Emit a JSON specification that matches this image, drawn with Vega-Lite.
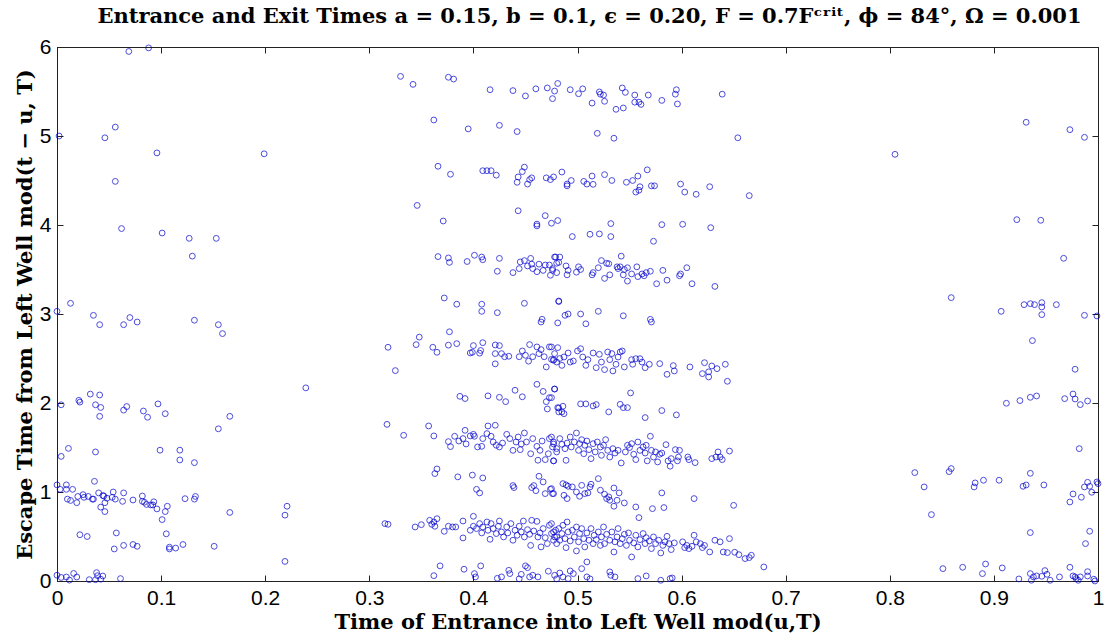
{
"$schema":"https://vega.github.io/schema/vega-lite/v6.json",
"autosize":{"type":"none"},
"width":1041,"height":534,
"padding":{"left":57,"top":47,"right":12,"bottom":62},
"background":"white",
"title":{"text":"Entrance and Exit Times a = 0.15, b = 0.1, ϵ = 0.20, F = 0.7Fᶜʳⁱᵗ, ϕ = 84°, Ω = 0.001","font":"DejaVu Serif","fontSize":21,"fontWeight":"bold","color":"#000","anchor":"middle","offset":9,"dx":12},
"config":{"view":{"stroke":"#222","strokeWidth":1}},
"data":{"values":[
{"x":0.069,"y":5.95},{"x":0.088,"y":5.99},{"x":0.002,"y":5.0},{"x":0.046,"y":4.98},{"x":0.056,"y":5.10},{"x":0.096,"y":4.81},{"x":0.199,"y":4.80},{"x":0.056,"y":4.49},{"x":0.062,"y":3.96},{"x":0.101,"y":3.91},{"x":0.127,"y":3.85},{"x":0.153,"y":3.85},{"x":0.130,"y":3.65},{"x":0.0,"y":3.03},{"x":0.013,"y":3.12},
{"x":0.035,"y":2.985},{"x":0.041,"y":2.88},{"x":0.070,"y":2.96},{"x":0.064,"y":2.88},{"x":0.077,"y":2.91},{"x":0.132,"y":2.93},{"x":0.155,"y":2.88},{"x":0.159,"y":2.78},{"x":0.239,"y":2.17},
{"x":0.004,"y":1.98},{"x":0.021,"y":2.03},{"x":0.022,"y":2.01},{"x":0.032,"y":2.10},{"x":0.041,"y":2.09},{"x":0.037,"y":1.98},{"x":0.042,"y":1.95},{"x":0.041,"y":1.85},{"x":0.067,"y":1.96},{"x":0.064,"y":1.92},{"x":0.083,"y":1.91},{"x":0.087,"y":1.84},{"x":0.097,"y":1.99},{"x":0.104,"y":1.88},{"x":0.166,"y":1.85},{"x":0.155,"y":1.71},
{"x":0.011,"y":1.49},{"x":0.004,"y":1.40},{"x":0.037,"y":1.45},{"x":0.099,"y":1.47},{"x":0.118,"y":1.47},{"x":0.118,"y":1.36},{"x":0.132,"y":1.33},
{"x":0.036,"y":1.12},{"x":0.0,"y":1.08},{"x":0.009,"y":1.08},{"x":0.003,"y":1.03},{"x":0.009,"y":1.03},{"x":0.015,"y":1.03},{"x":0.010,"y":0.92},{"x":0.013,"y":0.905},{"x":0.019,"y":0.88},{"x":0.020,"y":0.95},{"x":0.025,"y":0.97},{"x":0.026,"y":0.94},{"x":0.030,"y":0.95},{"x":0.034,"y":0.92},{"x":0.035,"y":0.92},{"x":0.040,"y":0.99},{"x":0.044,"y":0.96},{"x":0.045,"y":0.955},{"x":0.048,"y":0.93},{"x":0.046,"y":0.88},{"x":0.042,"y":0.83},{"x":0.046,"y":0.78},{"x":0.054,"y":1.0},{"x":0.053,"y":0.94},{"x":0.056,"y":0.92},{"x":0.064,"y":0.99},{"x":0.063,"y":0.895},{"x":0.073,"y":0.91},{"x":0.082,"y":0.955},{"x":0.082,"y":0.895},{"x":0.084,"y":0.885},{"x":0.086,"y":0.86},{"x":0.090,"y":0.855},{"x":0.092,"y":0.855},{"x":0.093,"y":0.89},{"x":0.096,"y":0.81},{"x":0.101,"y":0.69},{"x":0.104,"y":0.78},{"x":0.106,"y":0.84},{"x":0.105,"y":0.53},{"x":0.123,"y":0.925},{"x":0.132,"y":0.92},{"x":0.133,"y":0.95},{"x":0.166,"y":0.77},
{"x":0.022,"y":0.52},{"x":0.029,"y":0.50},{"x":0.057,"y":0.54},{"x":0.055,"y":0.36},{"x":0.064,"y":0.40},{"x":0.073,"y":0.41},{"x":0.077,"y":0.39},{"x":0.108,"y":0.38},{"x":0.108,"y":0.36},{"x":0.114,"y":0.37},{"x":0.121,"y":0.41},{"x":0.151,"y":0.39},{"x":0.219,"y":0.74},{"x":0.221,"y":0.84},{"x":0.219,"y":0.22},
{"x":0.0,"y":0.065},{"x":0.004,"y":0.04},{"x":0.009,"y":0.045},{"x":0.012,"y":0.01},{"x":0.016,"y":0.085},{"x":0.019,"y":0.045},{"x":0.031,"y":0.015},{"x":0.038,"y":0.094},{"x":0.039,"y":0.06},{"x":0.037,"y":0.015},{"x":0.042,"y":0.02},{"x":0.044,"y":0.056},{"x":0.061,"y":0.027},
{"x":0.330,"y":5.67},{"x":0.342,"y":5.58},{"x":0.376,"y":5.66},{"x":0.381,"y":5.64},{"x":0.416,"y":5.52},{"x":0.438,"y":5.51},{"x":0.450,"y":5.45},{"x":0.460,"y":5.53},{"x":0.471,"y":5.54},{"x":0.478,"y":5.505},{"x":0.476,"y":5.42},{"x":0.481,"y":5.59},{"x":0.362,"y":5.18},{"x":0.395,"y":5.08},{"x":0.425,"y":5.12},{"x":0.442,"y":5.05},
{"x":0.366,"y":4.66},{"x":0.378,"y":4.57},{"x":0.409,"y":4.61},{"x":0.413,"y":4.61},{"x":0.417,"y":4.61},{"x":0.422,"y":4.56},{"x":0.449,"y":4.65},{"x":0.447,"y":4.60},{"x":0.443,"y":4.54},{"x":0.442,"y":4.48},{"x":0.452,"y":4.46},{"x":0.454,"y":4.51},{"x":0.456,"y":4.53},{"x":0.470,"y":4.53},{"x":0.474,"y":4.51},{"x":0.477,"y":4.54},
{"x":0.346,"y":4.22},{"x":0.371,"y":4.045},{"x":0.443,"y":4.16},{"x":0.461,"y":4.01},{"x":0.461,"y":3.99},{"x":0.469,"y":4.105},{"x":0.475,"y":4.02},{"x":0.481,"y":4.05},
{"x":0.366,"y":3.645},{"x":0.376,"y":3.63},{"x":0.377,"y":3.58},{"x":0.394,"y":3.59},{"x":0.401,"y":3.66},{"x":0.408,"y":3.64},{"x":0.409,"y":3.61},{"x":0.425,"y":3.625},{"x":0.423,"y":3.48},{"x":0.438,"y":3.465},{"x":0.445,"y":3.585},{"x":0.444,"y":3.51},{"x":0.449,"y":3.60},{"x":0.452,"y":3.54},{"x":0.455,"y":3.625},{"x":0.456,"y":3.56},{"x":0.457,"y":3.51},{"x":0.461,"y":3.475},{"x":0.463,"y":3.56},{"x":0.467,"y":3.49},{"x":0.469,"y":3.55},{"x":0.473,"y":3.55},{"x":0.474,"y":3.435},{"x":0.476,"y":3.49},{"x":0.479,"y":3.64},{"x":0.480,"y":3.465},{"x":0.482,"y":3.58},
{"x":0.372,"y":3.18},{"x":0.384,"y":3.11},{"x":0.408,"y":3.11},{"x":0.408,"y":3.03},{"x":0.423,"y":3.015},{"x":0.449,"y":3.12},{"x":0.482,"y":3.14},{"x":0.466,"y":2.94},
{"x":0.493,"y":5.52},{"x":0.501,"y":5.475},{"x":0.505,"y":5.53},{"x":0.514,"y":5.37},{"x":0.521,"y":5.495},{"x":0.522,"y":5.47},{"x":0.525,"y":5.46},{"x":0.526,"y":5.39},{"x":0.537,"y":5.30},{"x":0.543,"y":5.54},{"x":0.546,"y":5.49},{"x":0.544,"y":5.315},{"x":0.555,"y":5.46},{"x":0.555,"y":5.38},{"x":0.559,"y":5.38},{"x":0.561,"y":5.355},{"x":0.568,"y":5.46},{"x":0.581,"y":5.40},{"x":0.594,"y":5.47},{"x":0.595,"y":5.52},{"x":0.596,"y":5.36},{"x":0.639,"y":5.47},{"x":0.519,"y":5.03},{"x":0.535,"y":4.975},{"x":0.654,"y":4.98},
{"x":0.485,"y":4.595},{"x":0.490,"y":4.44},{"x":0.490,"y":4.46},{"x":0.494,"y":4.50},{"x":0.506,"y":4.49},{"x":0.509,"y":4.46},{"x":0.515,"y":4.457},{"x":0.514,"y":4.55},{"x":0.526,"y":4.566},{"x":0.533,"y":4.50},{"x":0.547,"y":4.48},{"x":0.553,"y":4.50},{"x":0.558,"y":4.55},{"x":0.560,"y":4.43},{"x":0.556,"y":4.37},{"x":0.559,"y":4.39},{"x":0.567,"y":4.62},{"x":0.571,"y":4.44},{"x":0.574,"y":4.44},{"x":0.599,"y":4.46},{"x":0.603,"y":4.37},{"x":0.614,"y":4.345},{"x":0.627,"y":4.43},{"x":0.665,"y":4.33},
{"x":0.495,"y":3.87},{"x":0.512,"y":3.896},{"x":0.521,"y":3.90},{"x":0.532,"y":4.016},{"x":0.532,"y":3.87},{"x":0.573,"y":3.817},{"x":0.581,"y":4.004},{"x":0.601,"y":4.008},{"x":0.628,"y":3.97},
{"x":0.478,"y":3.64},{"x":0.483,"y":3.64},{"x":0.480,"y":3.57},{"x":0.476,"y":3.51},{"x":0.489,"y":3.54},{"x":0.491,"y":3.49},{"x":0.490,"y":3.44},{"x":0.501,"y":3.53},{"x":0.499,"y":3.47},{"x":0.503,"y":3.50},{"x":0.514,"y":3.44},{"x":0.515,"y":3.465},{"x":0.520,"y":3.52},{"x":0.523,"y":3.60},{"x":0.526,"y":3.40},{"x":0.528,"y":3.57},{"x":0.530,"y":3.565},{"x":0.531,"y":3.44},{"x":0.538,"y":3.53},{"x":0.539,"y":3.51},{"x":0.541,"y":3.53},{"x":0.542,"y":3.65},{"x":0.545,"y":3.50},{"x":0.544,"y":3.44},{"x":0.548,"y":3.37},{"x":0.548,"y":3.52},{"x":0.552,"y":3.45},{"x":0.557,"y":3.53},{"x":0.558,"y":3.42},{"x":0.562,"y":3.45},{"x":0.564,"y":3.43},{"x":0.566,"y":3.465},{"x":0.570,"y":3.48},{"x":0.576,"y":3.34},{"x":0.582,"y":3.49},{"x":0.586,"y":3.38},{"x":0.598,"y":3.43},{"x":0.599,"y":3.45},{"x":0.605,"y":3.52},{"x":0.610,"y":3.34},{"x":0.632,"y":3.31},
{"x":0.482,"y":3.146},{"x":0.488,"y":2.985},{"x":0.491,"y":3.0},{"x":0.503,"y":3.0},{"x":0.520,"y":3.03},{"x":0.544,"y":2.98},{"x":0.570,"y":2.94},{"x":0.481,"y":2.90},{"x":0.508,"y":2.89},{"x":0.571,"y":2.91},
{"x":0.465,"y":2.91},{"x":0.318,"y":2.626},{"x":0.325,"y":2.364},{"x":0.345,"y":2.656},{"x":0.348,"y":2.74},{"x":0.361,"y":2.626},{"x":0.365,"y":2.57},{"x":0.376,"y":2.65},{"x":0.377,"y":2.80},{"x":0.384,"y":2.667},{"x":0.397,"y":2.562},{"x":0.400,"y":2.645},{"x":0.399,"y":2.57},{"x":0.407,"y":2.59},{"x":0.406,"y":2.56},{"x":0.409,"y":2.678},{"x":0.421,"y":2.652},{"x":0.425,"y":2.645},{"x":0.421,"y":2.555},{"x":0.421,"y":2.44},{"x":0.427,"y":2.555},{"x":0.430,"y":2.52},{"x":0.434,"y":2.525},{"x":0.444,"y":2.52},{"x":0.447,"y":2.585},{"x":0.450,"y":2.536},{"x":0.453,"y":2.47},{"x":0.454,"y":2.656},{"x":0.457,"y":2.52},{"x":0.461,"y":2.63},{"x":0.463,"y":2.555},{"x":0.465,"y":2.60},{"x":0.468,"y":2.52},{"x":0.470,"y":2.405},{"x":0.473,"y":2.63},{"x":0.475,"y":2.49},{"x":0.477,"y":2.48},{"x":0.478,"y":2.555},{"x":0.480,"y":2.46},
{"x":0.387,"y":2.075},{"x":0.392,"y":2.05},{"x":0.414,"y":2.08},{"x":0.425,"y":2.064},{"x":0.431,"y":2.015},{"x":0.440,"y":2.143},{"x":0.447,"y":2.07},{"x":0.461,"y":2.21},{"x":0.467,"y":2.13},{"x":0.470,"y":2.015},{"x":0.473,"y":2.06},{"x":0.471,"y":1.933},{"x":0.478,"y":2.157},{"x":0.481,"y":1.948},{"x":0.482,"y":1.90},
{"x":0.317,"y":1.76},{"x":0.333,"y":1.637},{"x":0.357,"y":1.742},{"x":0.362,"y":1.63},{"x":0.376,"y":1.566},{"x":0.378,"y":1.51},{"x":0.382,"y":1.626},{"x":0.386,"y":1.573},{"x":0.390,"y":1.60},{"x":0.392,"y":1.693},{"x":0.393,"y":1.54},{"x":0.397,"y":1.63},{"x":0.400,"y":1.648},{"x":0.401,"y":1.626},{"x":0.404,"y":1.506},{"x":0.408,"y":1.513},{"x":0.409,"y":1.60},{"x":0.413,"y":1.656},{"x":0.414,"y":1.742},{"x":0.421,"y":1.75},{"x":0.417,"y":1.626},{"x":0.419,"y":1.562},{"x":0.422,"y":1.525},{"x":0.425,"y":1.506},{"x":0.428,"y":1.55},{"x":0.432,"y":1.648},{"x":0.435,"y":1.60},{"x":0.438,"y":1.468},{"x":0.441,"y":1.562},{"x":0.443,"y":1.618},{"x":0.445,"y":1.476},{"x":0.446,"y":1.54},{"x":0.449,"y":1.663},{"x":0.451,"y":1.562},{"x":0.455,"y":1.43},{"x":0.457,"y":1.60},{"x":0.461,"y":1.513},{"x":0.462,"y":1.357},{"x":0.464,"y":1.468},{"x":0.466,"y":1.573},{"x":0.469,"y":1.364},{"x":0.472,"y":1.43},{"x":0.473,"y":1.60},{"x":0.477,"y":1.35},{"x":0.477,"y":1.54},{"x":0.480,"y":1.488},
{"x":0.365,"y":1.259},{"x":0.363,"y":1.207},{"x":0.385,"y":1.17},{"x":0.399,"y":1.19},{"x":0.409,"y":1.158},{"x":0.403,"y":1.03},{"x":0.406,"y":0.99},{"x":0.438,"y":1.072},{"x":0.439,"y":1.05},{"x":0.456,"y":1.05},{"x":0.458,"y":1.072},{"x":0.460,"y":1.015},{"x":0.463,"y":1.177},{"x":0.467,"y":1.113},{"x":0.469,"y":0.982},{"x":0.474,"y":1.03},{"x":0.476,"y":0.982},
{"x":0.315,"y":0.645},{"x":0.318,"y":0.637},{"x":0.344,"y":0.607},{"x":0.350,"y":0.633},{"x":0.358,"y":0.682},{"x":0.360,"y":0.637},{"x":0.362,"y":0.663},{"x":0.365,"y":0.70},{"x":0.363,"y":0.615},{"x":0.372,"y":0.558},{"x":0.376,"y":0.615},{"x":0.380,"y":0.607},{"x":0.383,"y":0.607},{"x":0.390,"y":0.674},{"x":0.390,"y":0.484},{"x":0.397,"y":0.57},{"x":0.400,"y":0.727},{"x":0.400,"y":0.615},{"x":0.403,"y":0.589},{"x":0.406,"y":0.645},{"x":0.408,"y":0.54},{"x":0.409,"y":0.607},{"x":0.413,"y":0.663},{"x":0.414,"y":0.57},{"x":0.416,"y":0.469},{"x":0.417,"y":0.645},{"x":0.419,"y":0.589},{"x":0.422,"y":0.533},{"x":0.424,"y":0.615},{"x":0.425,"y":0.674},{"x":0.427,"y":0.551},{"x":0.429,"y":0.495},{"x":0.432,"y":0.607},{"x":0.433,"y":0.54},{"x":0.436,"y":0.645},{"x":0.438,"y":0.458},{"x":0.440,"y":0.57},{"x":0.442,"y":0.514},{"x":0.444,"y":0.615},{"x":0.446,"y":0.551},{"x":0.448,"y":0.674},{"x":0.449,"y":0.495},{"x":0.452,"y":0.577},{"x":0.454,"y":0.525},{"x":0.455,"y":0.40},{"x":0.456,"y":0.682},{"x":0.458,"y":0.562},{"x":0.461,"y":0.67},{"x":0.462,"y":0.495},{"x":0.464,"y":0.54},{"x":0.465,"y":0.383},{"x":0.467,"y":0.589},{"x":0.469,"y":0.487},{"x":0.471,"y":0.42},{"x":0.473,"y":0.626},{"x":0.475,"y":0.533},{"x":0.477,"y":0.458},{"x":0.479,"y":0.57},{"x":0.480,"y":0.495},
{"x":0.368,"y":0.17},{"x":0.362,"y":0.06},{"x":0.391,"y":0.132},{"x":0.401,"y":0.083},{"x":0.402,"y":0.046},{"x":0.407,"y":0.17},{"x":0.423,"y":0.03},{"x":0.427,"y":0.046},{"x":0.434,"y":0.12},{"x":0.435,"y":0.083},{"x":0.444,"y":0.024},{"x":0.446,"y":0.075},{"x":0.450,"y":0.17},{"x":0.452,"y":0.15},{"x":0.454,"y":0.046},{"x":0.457,"y":0.065},{"x":0.462,"y":0.046},{"x":0.472,"y":0.11},{"x":0.480,"y":0.024},
{"x":0.475,"y":2.63},{"x":0.481,"y":2.622},{"x":0.477,"y":2.487},{"x":0.483,"y":2.50},{"x":0.487,"y":2.517},{"x":0.485,"y":2.423},{"x":0.491,"y":2.562},{"x":0.493,"y":2.46},{"x":0.496,"y":2.472},{"x":0.500,"y":2.585},{"x":0.503,"y":2.61},{"x":0.505,"y":2.517},{"x":0.508,"y":2.423},{"x":0.510,"y":2.487},{"x":0.515,"y":2.562},{"x":0.518,"y":2.397},{"x":0.521,"y":2.547},{"x":0.523,"y":2.46},{"x":0.526,"y":2.375},{"x":0.529,"y":2.573},{"x":0.531,"y":2.487},{"x":0.533,"y":2.555},{"x":0.534,"y":2.36},{"x":0.537,"y":2.435},{"x":0.539,"y":2.517},{"x":0.541,"y":2.573},{"x":0.543,"y":2.585},{"x":0.545,"y":2.405},{"x":0.552,"y":2.487},{"x":0.553,"y":2.435},{"x":0.556,"y":2.498},{"x":0.560,"y":2.498},{"x":0.562,"y":2.46},{"x":0.565,"y":2.397},{"x":0.569,"y":2.435},{"x":0.579,"y":2.442},{"x":0.586,"y":2.322},{"x":0.592,"y":2.42},{"x":0.593,"y":2.36},{"x":0.608,"y":2.405},{"x":0.620,"y":2.33},{"x":0.622,"y":2.453},{"x":0.626,"y":2.35},{"x":0.626,"y":2.293},{"x":0.629,"y":2.416},{"x":0.634,"y":2.386},{"x":0.642,"y":2.435},{"x":0.644,"y":2.244},
{"x":0.478,"y":2.157},{"x":0.475,"y":2.06},{"x":0.482,"y":1.944},{"x":0.486,"y":1.963},{"x":0.485,"y":1.90},{"x":0.487,"y":1.88},{"x":0.503,"y":1.99},{"x":0.508,"y":1.99},{"x":0.515,"y":1.967},{"x":0.518,"y":1.982},{"x":0.530,"y":1.90},{"x":0.541,"y":1.985},{"x":0.544,"y":1.948},{"x":0.548,"y":1.948},{"x":0.551,"y":2.113},{"x":0.565,"y":1.836},{"x":0.581,"y":1.915},{"x":0.595,"y":1.866},
{"x":0.475,"y":1.618},{"x":0.477,"y":1.562},{"x":0.476,"y":1.506},{"x":0.480,"y":1.45},{"x":0.477,"y":1.35},{"x":0.483,"y":1.60},{"x":0.485,"y":1.536},{"x":0.488,"y":1.487},{"x":0.490,"y":1.55},{"x":0.489,"y":1.356},{"x":0.493,"y":1.618},{"x":0.494,"y":1.506},{"x":0.497,"y":1.562},{"x":0.499,"y":1.663},{"x":0.501,"y":1.468},{"x":0.502,"y":1.543},{"x":0.504,"y":1.588},{"x":0.506,"y":1.43},{"x":0.507,"y":1.525},{"x":0.509,"y":1.573},{"x":0.511,"y":1.476},{"x":0.513,"y":1.375},{"x":0.515,"y":1.543},{"x":0.517,"y":1.45},{"x":0.519,"y":1.562},{"x":0.522,"y":1.506},{"x":0.523,"y":1.412},{"x":0.525,"y":1.525},{"x":0.527,"y":1.588},{"x":0.529,"y":1.468},{"x":0.531,"y":1.393},{"x":0.534,"y":1.487},{"x":0.536,"y":1.438},{"x":0.539,"y":1.468},{"x":0.542,"y":1.326},{"x":0.546,"y":1.45},{"x":0.548,"y":1.525},{"x":0.550,"y":1.50},{"x":0.552,"y":1.543},{"x":0.554,"y":1.424},{"x":0.556,"y":1.364},{"x":0.558,"y":1.562},{"x":0.560,"y":1.468},{"x":0.563,"y":1.506},{"x":0.565,"y":1.438},{"x":0.566,"y":1.525},{"x":0.567,"y":1.35},{"x":0.570,"y":1.626},{"x":0.571,"y":1.468},{"x":0.573,"y":1.393},{"x":0.575,"y":1.45},{"x":0.577,"y":1.338},{"x":0.579,"y":1.424},{"x":0.581,"y":1.438},{"x":0.585,"y":1.532},{"x":0.587,"y":1.35},{"x":0.589,"y":1.29},{"x":0.590,"y":1.375},{"x":0.594,"y":1.476},{"x":0.596,"y":1.35},{"x":0.598,"y":1.468},{"x":0.597,"y":1.393},{"x":0.606,"y":1.393},{"x":0.607,"y":1.364},{"x":0.613,"y":1.33},{"x":0.629,"y":1.375},{"x":0.633,"y":1.393},{"x":0.635,"y":1.45},{"x":0.637,"y":1.393},{"x":0.639,"y":1.364},{"x":0.646,"y":1.46},
{"x":0.475,"y":1.038},{"x":0.477,"y":0.982},{"x":0.486,"y":1.094},{"x":0.489,"y":1.08},{"x":0.491,"y":1.064},{"x":0.495,"y":1.057},{"x":0.487,"y":0.963},{"x":0.490,"y":0.926},{"x":0.499,"y":1.0},{"x":0.502,"y":0.952},{"x":0.504,"y":1.075},{"x":0.507,"y":0.982},{"x":0.510,"y":0.99},{"x":0.512,"y":1.057},{"x":0.513,"y":1.087},{"x":0.520,"y":1.15},{"x":0.522,"y":1.02},{"x":0.526,"y":0.975},{"x":0.528,"y":0.926},{"x":0.530,"y":0.945},{"x":0.531,"y":0.907},{"x":0.535,"y":1.045},{"x":0.538,"y":0.907},{"x":0.540,"y":0.99},{"x":0.535,"y":0.84},{"x":0.545,"y":0.877},{"x":0.556,"y":0.832},{"x":0.559,"y":0.712},{"x":0.572,"y":0.813},{"x":0.581,"y":0.99},{"x":0.583,"y":0.825},{"x":0.612,"y":0.926},{"x":0.650,"y":0.85},
{"x":0.475,"y":0.645},{"x":0.477,"y":0.551},{"x":0.478,"y":0.495},{"x":0.480,"y":0.42},{"x":0.482,"y":0.589},{"x":0.483,"y":0.458},{"x":0.485,"y":0.533},{"x":0.486,"y":0.626},{"x":0.488,"y":0.476},{"x":0.489,"y":0.375},{"x":0.490,"y":0.663},{"x":0.491,"y":0.551},{"x":0.493,"y":0.45},{"x":0.495,"y":0.57},{"x":0.497,"y":0.495},{"x":0.499,"y":0.338},{"x":0.499,"y":0.607},{"x":0.501,"y":0.44},{"x":0.502,"y":0.533},{"x":0.504,"y":0.589},{"x":0.506,"y":0.476},{"x":0.507,"y":0.383},{"x":0.509,"y":0.54},{"x":0.509,"y":0.214},{"x":0.511,"y":0.458},{"x":0.513,"y":0.589},{"x":0.515,"y":0.42},{"x":0.516,"y":0.514},{"x":0.518,"y":0.465},{"x":0.520,"y":0.551},{"x":0.522,"y":0.40},{"x":0.523,"y":0.495},{"x":0.525,"y":0.607},{"x":0.526,"y":0.42},{"x":0.528,"y":0.525},{"x":0.531,"y":0.458},{"x":0.533,"y":0.551},{"x":0.535,"y":0.326},{"x":0.536,"y":0.44},{"x":0.538,"y":0.495},{"x":0.539,"y":0.589},{"x":0.541,"y":0.42},{"x":0.543,"y":0.476},{"x":0.545,"y":0.525},{"x":0.547,"y":0.40},{"x":0.549,"y":0.54},{"x":0.550,"y":0.458},{"x":0.552,"y":0.27},{"x":0.554,"y":0.428},{"x":0.556,"y":0.514},{"x":0.558,"y":0.383},{"x":0.560,"y":0.465},{"x":0.563,"y":0.533},{"x":0.565,"y":0.42},{"x":0.566,"y":0.487},{"x":0.569,"y":0.45},{"x":0.571,"y":0.364},{"x":0.573,"y":0.495},{"x":0.575,"y":0.42},{"x":0.578,"y":0.458},{"x":0.580,"y":0.315},{"x":0.582,"y":0.40},{"x":0.584,"y":0.44},{"x":0.586,"y":0.502},{"x":0.588,"y":0.42},{"x":0.590,"y":0.353},{"x":0.593,"y":0.428},{"x":0.601,"y":0.44},{"x":0.603,"y":0.375},{"x":0.605,"y":0.40},{"x":0.607,"y":0.364},{"x":0.610,"y":0.39},{"x":0.612,"y":0.514},{"x":0.614,"y":0.44},{"x":0.618,"y":0.42},{"x":0.620,"y":0.375},{"x":0.622,"y":0.40},{"x":0.627,"y":0.326},{"x":0.632,"y":0.458},{"x":0.637,"y":0.44},{"x":0.640,"y":0.326},{"x":0.644,"y":0.319},{"x":0.646,"y":0.476},{"x":0.651,"y":0.323},{"x":0.655,"y":0.296},{"x":0.661,"y":0.252},{"x":0.665,"y":0.263},{"x":0.667,"y":0.289},{"x":0.679,"y":0.158},
{"x":0.478,"y":0.064},{"x":0.483,"y":0.09},{"x":0.486,"y":0.046},{"x":0.493,"y":0.113},{"x":0.496,"y":0.083},{"x":0.491,"y":0.027},{"x":0.504,"y":0.139},{"x":0.509,"y":0.046},{"x":0.512,"y":0.024},{"x":0.531,"y":0.102},{"x":0.532,"y":0.064},{"x":0.536,"y":0.046},{"x":0.558,"y":0.027},{"x":0.566,"y":0.057},{"x":0.580,"y":0.008},{"x":0.589,"y":0.027},{"x":0.591,"y":0.034},
{"x":0.805,"y":4.794},{"x":0.931,"y":5.154},{"x":0.973,"y":5.071},{"x":0.987,"y":4.985},{"x":0.922,"y":4.06},{"x":0.945,"y":4.053},{"x":0.967,"y":3.626},{"x":0.859,"y":3.184},{"x":0.907,"y":3.03},{"x":0.929,"y":3.105},{"x":0.935,"y":3.116},{"x":0.939,"y":3.105},{"x":0.946,"y":3.128},{"x":0.946,"y":3.079},{"x":0.946,"y":2.993},{"x":0.960,"y":3.105},{"x":0.987,"y":2.985},{"x":0.999,"y":2.978},
{"x":0.937,"y":2.701},{"x":0.978,"y":2.379},{"x":0.912,"y":1.997},{"x":0.925,"y":2.027},{"x":0.935,"y":2.064},{"x":0.941,"y":2.079},{"x":0.968,"y":2.049},{"x":0.976,"y":2.101},{"x":0.978,"y":2.045},{"x":0.983,"y":1.982},{"x":0.990,"y":2.023},{"x":0.982,"y":1.487},
{"x":0.824,"y":1.218},{"x":0.833,"y":1.057},{"x":0.840,"y":0.746},{"x":0.857,"y":1.229},{"x":0.859,"y":1.263},{"x":0.882,"y":1.102},{"x":0.881,"y":1.057},{"x":0.890,"y":1.132},{"x":0.905,"y":1.132},{"x":0.935,"y":1.21},{"x":0.928,"y":1.064},{"x":0.931,"y":1.079},{"x":0.948,"y":1.079},{"x":0.973,"y":0.888},{"x":0.976,"y":0.978},{"x":0.984,"y":0.941},{"x":0.987,"y":1.057},{"x":0.990,"y":1.109},{"x":0.994,"y":0.997},{"x":0.992,"y":1.064},{"x":0.999,"y":1.113},{"x":1.0,"y":1.094},{"x":0.935,"y":0.544},{"x":0.992,"y":0.559},{"x":0.988,"y":0.42},
{"x":0.851,"y":0.139},{"x":0.870,"y":0.154},{"x":0.892,"y":0.191},{"x":0.889,"y":0.083},{"x":0.908,"y":0.147},{"x":0.924,"y":0.023},{"x":0.935,"y":0.083},{"x":0.936,"y":0.008},{"x":0.938,"y":0.046},{"x":0.941,"y":0.057},{"x":0.949,"y":0.117},{"x":0.951,"y":0.075},{"x":0.946,"y":0.053},{"x":0.954,"y":0.008},{"x":0.963,"y":0.046},{"x":0.973,"y":0.154},{"x":0.976,"y":0.057},{"x":0.978,"y":0.046},{"x":0.979,"y":0.027},{"x":0.981,"y":0.008},{"x":0.983,"y":0.046},{"x":0.990,"y":0.105},{"x":0.990,"y":0.057},{"x":0.996,"y":0.02},{"x":0.997,"y":0.0}
]},
"layer":[
{"mark":{"type":"point","shape":"circle","filled":false,"size":34,"strokeWidth":1,"color":"#0000d0","clip":false},
"encoding":{
"x":{"field":"x","type":"quantitative","scale":{"domain":[0,1],"nice":false,"zero":false},
"axis":{"values":[0,0.1,0.2,0.3,0.4,0.5,0.6,0.7,0.8,0.9,1],"format":"~g","grid":false,"domainColor":"#222","tickColor":"#222","tickSize":-6,"labelFont":"Liberation Sans","labelFontSize":21,"labelColor":"#000","labelPadding":12,"labelFlush":false,
"title":"Time of Entrance into Left Well mod(u,T)","titleFont":"DejaVu Serif","titleFontSize":21,"titleFontWeight":"bold","titleColor":"#000","titlePadding":3}},
"y":{"field":"y","type":"quantitative","scale":{"domain":[0,6],"nice":false,"zero":false},
"axis":{"values":[0,1,2,3,4,5,6],"grid":false,"domainColor":"#222","tickColor":"#222","tickSize":-6,"labelFont":"Liberation Sans","labelFontSize":21,"labelColor":"#000","labelPadding":12,"labelFlush":false,
"title":"Escape Time from Left Well mod(t − u, T)","titleFont":"DejaVu Serif","titleFontSize":21,"titleFontWeight":"bold","titleColor":"#000","titlePadding":4}}
}},
{"mark":{"type":"point","opacity":0},
"encoding":{
"x":{"field":"x","type":"quantitative","axis":{"orient":"top","values":[0,0.1,0.2,0.3,0.4,0.5,0.6,0.7,0.8,0.9,1],"labels":false,"title":null,"grid":false,"domainColor":"#222","tickColor":"#222","tickSize":-6}},
"y":{"field":"y","type":"quantitative","axis":{"orient":"right","values":[0,1,2,3,4,5,6],"labels":false,"title":null,"grid":false,"domainColor":"#222","tickColor":"#222","tickSize":-6}}
}}
],
"resolve":{"axis":{"x":"independent","y":"independent"}}
}
